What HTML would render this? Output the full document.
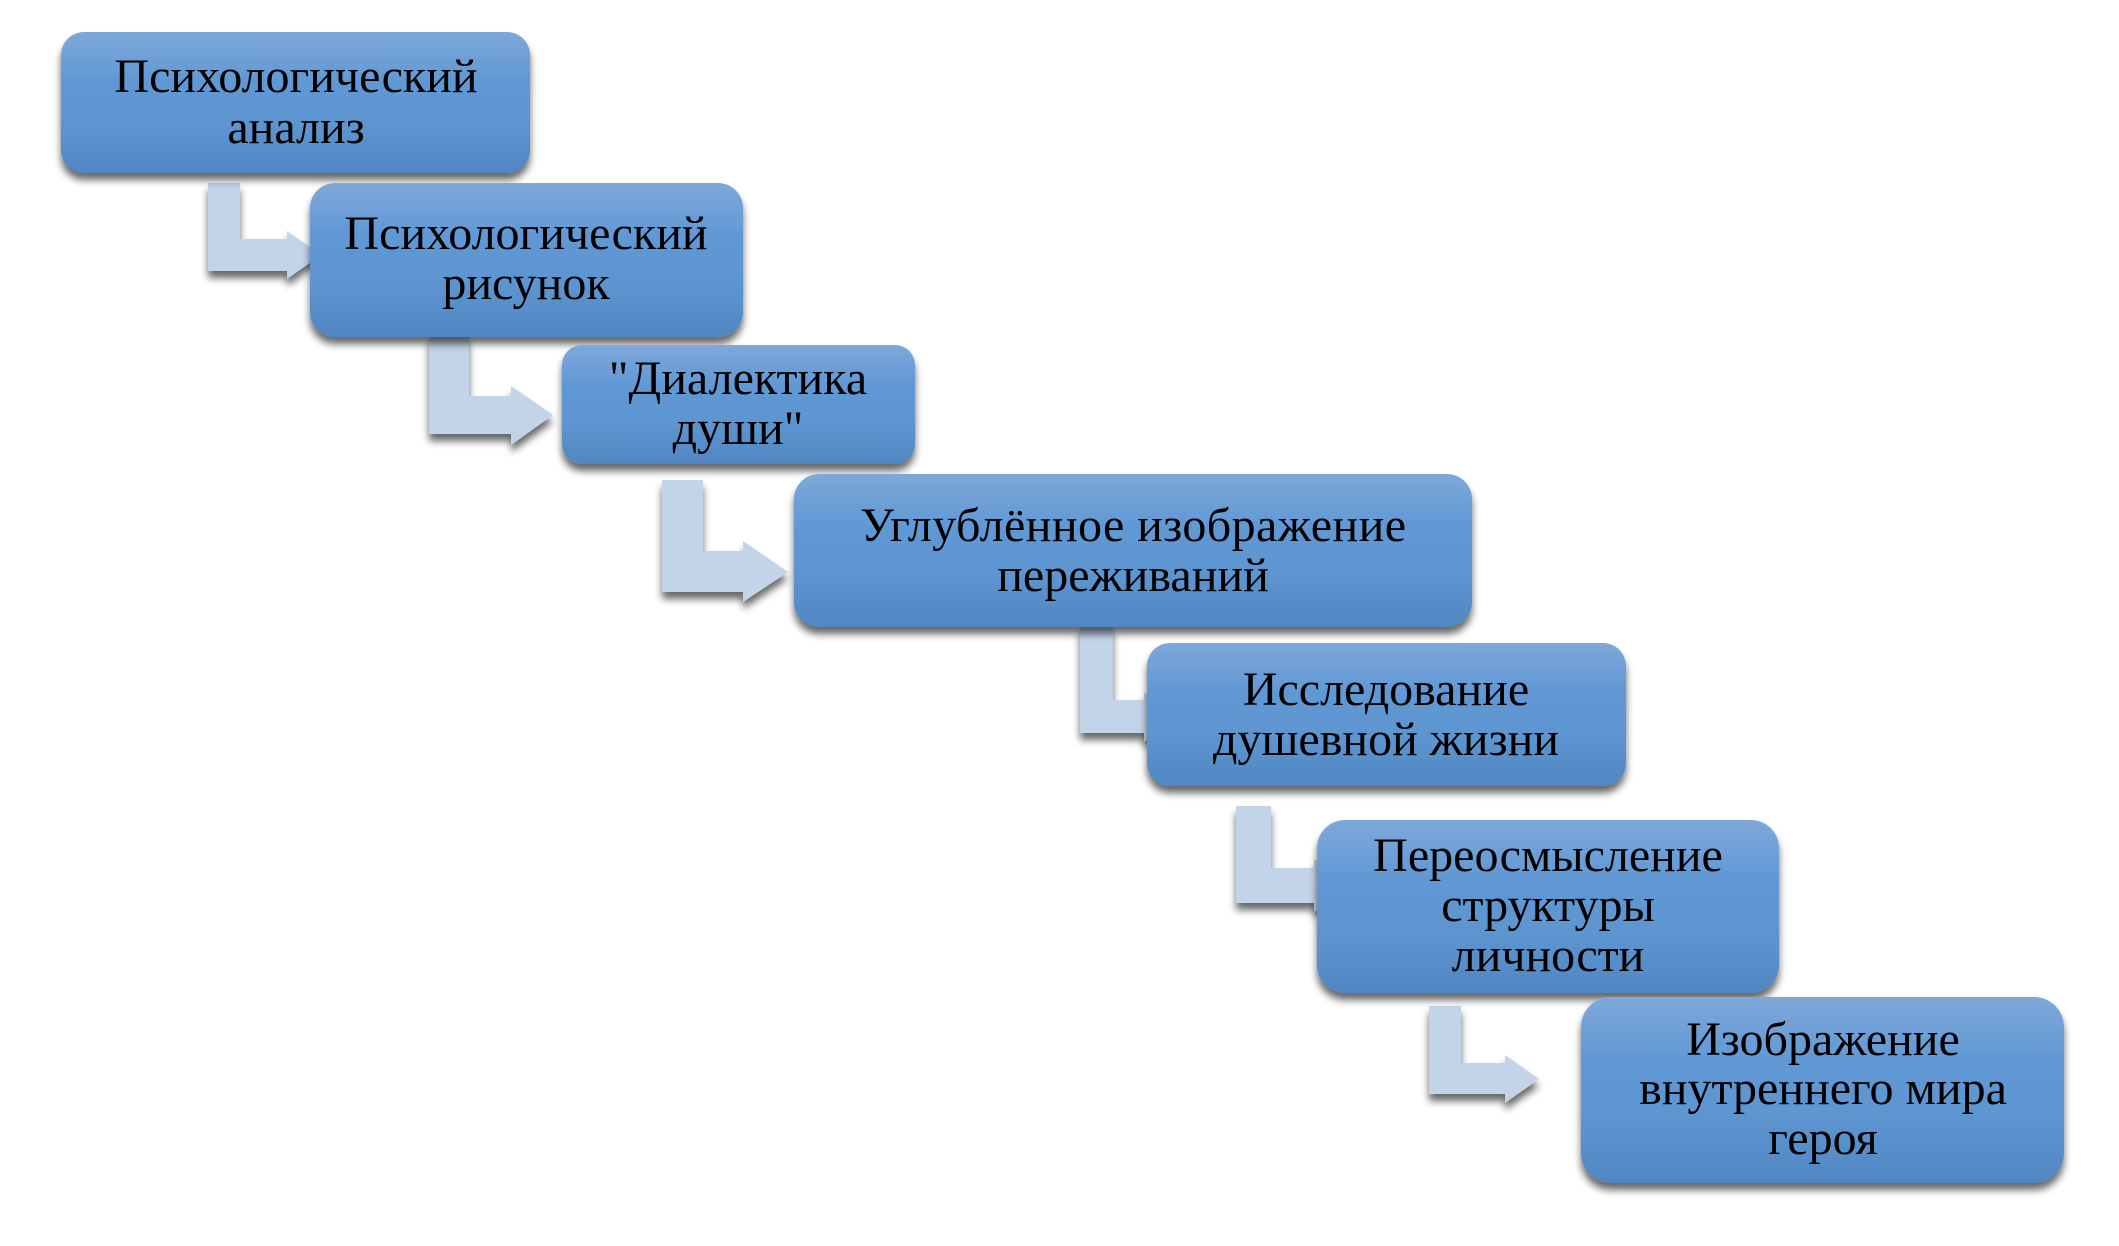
<!DOCTYPE html>
<html lang="ru">
<head>
<meta charset="utf-8">
<title>Психологический анализ</title>
<style>
html,body{margin:0;padding:0;background:#fff;}
svg{display:block;}
text{font-family:"Liberation Serif","Noto Serif CJK SC",serif;font-size:48px;fill:#000;text-anchor:middle;}
</style>
</head>
<body>
<svg width="2119" height="1246" viewBox="0 0 2119 1246" xmlns="http://www.w3.org/2000/svg">
<defs>
<linearGradient id="g" x1="0" y1="0" x2="0" y2="1">
<stop offset="0" stop-color="#7ea8d9"/>
<stop offset="0.35" stop-color="#6098d5"/>
<stop offset="0.65" stop-color="#5d95d0"/>
<stop offset="1" stop-color="#5087c2"/>
</linearGradient>
<filter id="s" x="-20%" y="-20%" width="140%" height="145%">
<feGaussianBlur in="SourceAlpha" stdDeviation="4"/>
<feOffset dy="7"/>
<feComponentTransfer><feFuncA type="linear" slope="0.6"/></feComponentTransfer>
<feMerge><feMergeNode/><feMergeNode in="SourceGraphic"/></feMerge>
</filter>
</defs>
<g fill="#c3d3e8" filter="url(#s)">
<path d="M208,183H240V239H287V231L321,255L287,279V271H208Z"/>
<path d="M429,335H469V396H511V386L553,415L511,445V434H429Z"/>
<path d="M662,480H703V551H743V541L788,572L743,602V592H662Z"/>
<path d="M1080,625H1113V700H1144V692L1180,717L1144,742V733H1080Z"/>
<path d="M1236,806H1271V868H1314V859L1352,885L1314,912V903H1236Z"/>
<path d="M1429,1006H1461V1063H1505V1055L1539,1079L1505,1103V1094H1429Z"/>
</g>
<g fill="url(#g)" filter="url(#s)">
<rect x="61" y="32" width="469" height="141" rx="23"/>
<rect x="310" y="183" width="433" height="154" rx="25"/>
<rect x="562" y="345" width="353" height="119" rx="20"/>
<rect x="794" y="474" width="678" height="153" rx="25"/>
<rect x="1147" y="643" width="479" height="143" rx="23"/>
<rect x="1317" y="820" width="462" height="173" rx="28"/>
<rect x="1581" y="997" width="483" height="186" rx="30"/>
</g>
<text x="296" y="92">Психологический</text>
<text x="296" y="143">анализ</text>
<text x="526" y="249">Психологический</text>
<text x="526" y="299">рисунок</text>
<text x="738" y="394">"Диалектика</text>
<text x="738" y="444">души"</text>
<text x="1133" y="541" textLength="546" lengthAdjust="spacing">Углублённое изображение</text>
<text x="1133" y="591">переживаний</text>
<text x="1386" y="705">Исследование</text>
<text x="1386" y="755">душевной жизни</text>
<text x="1548" y="871">Переосмысление</text>
<text x="1548" y="921">структуры</text>
<text x="1548" y="971">личности</text>
<text x="1823" y="1055">Изображение</text>
<text x="1823" y="1104">внутреннего мира</text>
<text x="1823" y="1154">героя</text>
</svg>
</body>
</html>
